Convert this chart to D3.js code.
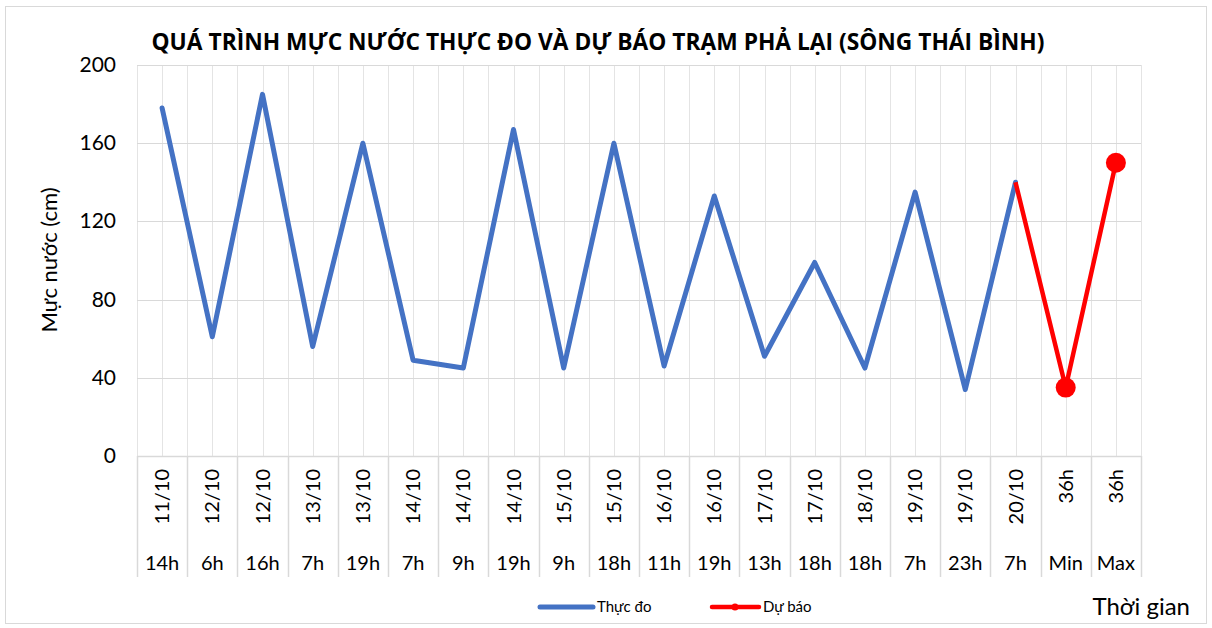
<!DOCTYPE html>
<meta charset="utf-8">
<style>
  body { margin: 0; background: #fff; }
  text { font-family: 'Lato', 'Liberation Sans', sans-serif; fill: #000; }
  .title { font-family: 'Open Sans', sans-serif; font-weight: 700; font-size: 22.5px; }
  .grid line { stroke: #d9d9d9; stroke-width: 1px; }
</style>
<script src="https://d3js.org/d3.v7.min.js"></script>
<svg width="1212" height="628"></svg>
<script>
// two-level category labels: date (rotated) + hour
var labelsTop = ["11/10","12/10","12/10","13/10","13/10","14/10","14/10","14/10","15/10","15/10","16/10","16/10","17/10","17/10","18/10","19/10","19/10","20/10","36h","36h"];
var labelsBottom = ["14h","6h","16h","7h","19h","7h","9h","19h","9h","18h","11h","19h","13h","18h","18h","7h","23h","7h","Min","Max"];
var observed = [178, 61, 185, 56, 160, 49, 45, 167, 45, 160, 46, 133, 51, 99, 45, 135, 34, 140];
var forecast = [140, 35, 150];  // starts at 20/10 7h
var yTicks = [0, 40, 80, 120, 160, 200];

var svg = d3.select("svg");
var pLeft = 137, pRight = 1141, pTop = 65, pBottom = 456;

var idx = d3.range(labelsBottom.length);
var x = d3.scaleBand().domain(idx).range([pLeft, pRight]);
var y = d3.scaleLinear().domain([0, 200]).range([pBottom, pTop]);
var cx = function(i) { return x(i) + x.bandwidth() / 2; };

// outer border
svg.append("rect").attr("x", 5.5).attr("y", 6.5).attr("width", 1201).attr("height", 617)
  .attr("fill", "none").attr("stroke", "#d9d9d9");

// grid
var grid = svg.append("g").attr("class", "grid");
var vlines = [];
idx.forEach(function(i) { vlines.push(x(i)); vlines.push(cx(i)); });
vlines.push(pRight);
grid.selectAll(".v").data(vlines).enter().append("line")
  .attr("x1", function(d) { return Math.round(d) + 0.5; }).attr("x2", function(d) { return Math.round(d) + 0.5; })
  .attr("y1", pTop).attr("y2", pBottom).style("stroke", "#e4e4e4");
grid.selectAll(".h").data(yTicks).enter().append("line")
  .attr("x1", pLeft).attr("x2", pRight)
  .attr("y1", function(d) { return Math.round(y(d)) + 0.5; }).attr("y2", function(d) { return Math.round(y(d)) + 0.5; });

// category separators below the axis
var sep = idx.map(function(i) { return x(i); }).concat([pRight]);
svg.append("g").selectAll("line").data(sep).enter().append("line")
  .attr("x1", function(d) { return Math.round(d) + 0.5; }).attr("x2", function(d) { return Math.round(d) + 0.5; })
  .attr("y1", pBottom).attr("y2", 577).attr("stroke", "#d9d9d9").attr("stroke-width", 1.5);
svg.append("line").attr("x1", pLeft).attr("x2", pRight).attr("y1", pBottom + 0.5).attr("y2", pBottom + 0.5)
  .attr("stroke", "#d9d9d9").attr("stroke-width", 1.5);

// y tick labels
svg.append("g").selectAll("text").data(yTicks).enter().append("text")
  .attr("x", 116).attr("y", function(d) { return y(d) + 7; })
  .attr("text-anchor", "end").style("font-size", "21px").text(function(d) { return d; });

// x labels
svg.append("g").selectAll("text").data(idx).enter().append("text")
  .attr("transform", function(i) { return "translate(" + (cx(i) + 7) + ",469) rotate(-90)"; })
  .attr("text-anchor", "end").style("font-size", "20px").text(function(i) { return labelsTop[i]; });
svg.append("g").selectAll("text").data(idx).enter().append("text")
  .attr("x", cx).attr("y", 570).attr("text-anchor", "middle").style("font-size", "20px")
  .text(function(i) { return labelsBottom[i]; });

// lines
var line = d3.line().x(function(d) { return cx(d[0]); }).y(function(d) { return y(d[1]); });
var obsPts = observed.map(function(v, i) { return [i, v]; });
var fcPts = forecast.map(function(v, i) { return [i + observed.length - 1, v]; });
svg.append("path").datum(obsPts).attr("d", line).attr("fill", "none")
  .attr("stroke", "#4472c4").attr("stroke-width", 5).attr("stroke-linejoin", "round").attr("stroke-linecap", "round");
svg.append("path").datum(fcPts).attr("d", line).attr("fill", "none")
  .attr("stroke", "#ff0000").attr("stroke-width", 4.5).attr("stroke-linejoin", "round");
svg.append("g").selectAll("circle").data(fcPts.slice(1)).enter().append("circle")
  .attr("cx", function(d) { return cx(d[0]); }).attr("cy", function(d) { return y(d[1]); })
  .attr("r", 10).attr("fill", "#ff0000");

// titles
svg.append("text").attr("class", "title").attr("x", 598).attr("y", 50).attr("text-anchor", "middle")
  .attr("textLength", 893).attr("lengthAdjust", "spacingAndGlyphs")
  .text("QUÁ TRÌNH MỰC NƯỚC THỰC ĐO VÀ DỰ BÁO TRẠM PHẢ LẠI (SÔNG THÁI BÌNH)");
svg.append("text").attr("transform", "translate(57,260) rotate(-90)").attr("text-anchor", "middle")
  .style("font-size", "22px").text("Mực nước (cm)");
svg.append("text").attr("x", 1190).attr("y", 615).attr("text-anchor", "end").style("font-size", "24px").text("Thời gian");

// legend
var lg = svg.append("g");
lg.append("line").attr("x1", 540).attr("x2", 593).attr("y1", 607).attr("y2", 607)
  .attr("stroke", "#4472c4").attr("stroke-width", 5).attr("stroke-linecap", "round");
lg.append("text").attr("x", 597).attr("y", 612).style("font-size", "15px").text("Thực đo");
lg.append("line").attr("x1", 712).attr("x2", 759).attr("y1", 607).attr("y2", 607)
  .attr("stroke", "#ff0000").attr("stroke-width", 4.5).attr("stroke-linecap", "round");
lg.append("circle").attr("cx", 735).attr("cy", 607).attr("r", 3.5).attr("fill", "#ff0000");
lg.append("text").attr("x", 763).attr("y", 612).style("font-size", "15px").text("Dự báo");
</script>
